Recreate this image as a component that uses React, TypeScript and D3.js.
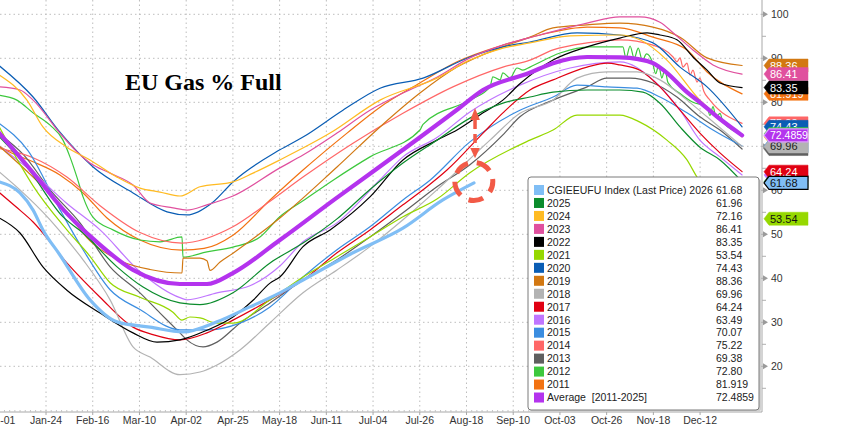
import React from 'react';
import * as d3 from 'd3';

type P = [number, number];

// day-of-year, % full
const S2011: P[] = [[0,70],[5,68.7],[16.5,66.5],[29.6,63.5],[40.9,59.4],[52.6,53.7],[68.7,48.7],[89.2,46.4],[100,46.8],[114.1,49.8],[132.2,57.8],[148.3,64.6],[169.8,73.0],[185.9,78.9],[205.4,84.4],[223.5,89.2],[245.9,93.0],[264,95.3],[287,97.1],[303,96.9],[319.2,94.8],[335.8,91.9],[345.6,86.9],[362.7,81.919]];
const S2012: P[] = [[0,81.6],[8.6,80.5],[16.5,77.6],[24.8,74.8],[31.1,71.4],[34.5,67.6],[37.9,63.0],[40.9,58.5],[45.7,53.9],[55.5,51.0],[68.7,48.7],[78.5,48.3],[89.2,49.4],[89.7,44.8],[101.4,46.0],[114.1,47.1],[127.3,49.4],[137,54.0],[148.3,57.6],[163,62.3],[181,67.6],[205.4,73.7],[206.9,75.0],[229.8,80.5],[239.6,83.5],[241,85.8],[244.5,85.1],[245.9,86.7],[249.4,85.5],[252.8,87.8],[255.7,87.3],[259.1,88.0],[273.8,91.2],[288.4,92.6],[304.5,92.6],[306,90.0],[308,92.8],[310,90.0],[312,92.3],[314,89.5],[316,91.0],[319,89.0],[320.5,86.5],[322,88.5],[323.5,85.5],[325,87.5],[326.5,84.5],[332.4,82.0],[338.7,80.0],[345.6,79.0],[347,77.0],[348.5,79.0],[350,76.5],[351.9,77.5],[353.4,75.5],[362.7,72.8]];
const S2013: P[] = [[0,72.8],[12,68],[24.8,60.1],[39.4,52.6],[54.1,42.6],[68.7,36.7],[78.5,32.1],[88.2,27.6],[91.6,26.0],[99.5,24.4],[106.3,25.5],[117.5,29.8],[132.2,34.4],[148.3,39.6],[164.9,44.2],[181,49.4],[197.1,54.9],[213.7,60.8],[229.8,65.8],[245.9,72.6],[254.2,76.7],[270.4,80.5],[287,83.5],[296.7,85.5],[308,85.5],[319.2,84.4],[330.9,81.2],[342.1,76.7],[351.9,73.7],[362.7,69.38]];
const S2014: P[] = [[0,69.5],[16.5,67.4],[33,63],[49.2,56.5],[68.7,50.4],[89.2,48.0],[114.1,51.7],[132.2,57.5],[148.3,63.0],[172.7,70.7],[197.1,77.5],[221.5,83.5],[245.9,88.0],[259.1,89.6],[270.4,91.9],[287,93.5],[303,94.2],[319.2,93.0],[329,90.3],[330.9,89.2],[332.4,90.1],[333.8,88.0],[335.8,88.9],[337.3,86.2],[338.7,87.3],[340.7,84.6],[342.1,85.5],[344,82.5],[347,80.5],[362.7,75.22]];
const S2015: P[] = [[0,75.2],[14,69],[29.6,55.6],[40.9,46.5],[54.1,37.4],[68.7,32.9],[88.2,28.3],[102.9,28.3],[117.5,29.8],[132.2,33.5],[148.3,40.3],[164.9,46.5],[181,51.7],[197.1,57.8],[210.3,62.3],[229.8,71.0],[254.2,78.2],[270.4,81.2],[282.1,83.9],[296.7,83.5],[311.4,83.2],[322.6,81.2],[335.8,77.6],[348.5,73.7],[362.7,70.07]];
const S2016: P[] = [[0,70],[16.5,64],[33,57],[49.2,51],[68.7,41.5],[88.2,35.6],[91.6,35.1],[106.3,36.7],[122.4,38.3],[137,42.8],[148.3,48.3],[164.9,52.6],[185.9,62.4],[197.1,67.6],[213.7,72],[229.8,77.8],[254.2,83.9],[278.7,87.8],[303,89.2],[319.2,85.1],[332.4,78.2],[342.1,71.4],[351.9,67.6],[362.7,63.49]];
const S2017: P[] = [[0,59.5],[8,56.3],[16.5,52.8],[33,43.5],[49.2,35.7],[65.3,28.9],[75,27.2],[88.2,26.0],[101.4,27.6],[114.1,30.5],[132.2,35.1],[148.3,39.6],[164.9,45.8],[181,51.0],[197.1,56.7],[208.8,60.8],[218.6,64.6],[236.2,73.0],[245.9,77.6],[259.1,82.8],[270.4,85.1],[287,88.0],[296.7,88.9],[303,88.5],[312.8,87.3],[322.6,83.5],[332.4,78.2],[342.1,73.0],[351.9,68.5],[362.7,64.24]];
const S2018: P[] = [[0,64.2],[10.1,60.1],[24.8,53.3],[40.9,44.2],[54.1,35.1],[65.3,24.4],[73.6,22.1],[88.2,18.1],[98,18.7],[106.3,20.3],[117.5,23.7],[132.2,29.9],[148.3,36.7],[164.9,41.9],[181,47.2],[197.1,53.3],[213.7,60.1],[239.6,71.4],[254.2,77.5],[270.4,80.5],[282.1,85.5],[296.7,86.9],[311.4,86.9],[322.6,85.1],[335.8,80.5],[345.6,76.7],[362.7,69.96]];
const S2019: P[] = [[0,70],[16.5,63],[31,56],[44.3,48.5],[59,44],[73.6,42],[89.2,41.2],[89.7,44.6],[98,44.6],[101.4,44.0],[102.9,41.8],[107.8,43.7],[114.1,45.7],[137,53.7],[164.9,65.3],[185.9,74.4],[205.4,82.1],[223.5,88.0],[245.9,92.6],[259.1,94.8],[270.4,96.9],[287,97.6],[303,98.0],[319.2,97.1],[332.4,94.8],[345.6,90.1],[362.7,88.36]];
const S2020: P[] = [[0,88.3],[16.5,81.2],[29.6,73.2],[45.8,65.3],[65.3,59.4],[81.9,55.1],[91.6,54.4],[104.3,57.3],[114.1,61.9],[137,69.2],[148.3,72.1],[167.8,78.2],[185.9,83.2],[206.9,85.5],[229.8,90.3],[245.9,92.6],[259.1,93.7],[282.1,95.8],[303,95.3],[319.2,93.5],[332.4,88.0],[345.6,83.5],[362.7,74.43]];
const S2021: P[] = [[0,74.4],[10,66],[16.5,61],[33,51],[44.3,45],[54.1,39],[68.7,35.7],[84.8,32.3],[89.2,30.5],[93.1,31.2],[98,31.0],[106.3,29.8],[114.1,29.8],[132.2,35.1],[148.3,40.3],[164.9,44.9],[181,49.4],[197.1,54.0],[213.7,58.0],[229.8,64.0],[259.1,71.4],[270.4,73.7],[282.1,77.1],[296.7,77.1],[303,77.1],[312.8,75.5],[326,71.4],[335.8,66.9],[340.7,63.0],[351.9,57.8],[362.7,53.54]];
const S2022: P[] = [[0,53.7],[10.1,50.3],[21.3,42.6],[33,37.3],[49.2,32.1],[65.3,27.6],[77,25.5],[88.2,26.0],[101.4,28.2],[114.1,31.2],[123.9,35.0],[132.2,38.9],[137,40.3],[148.3,47.2],[161.5,51.0],[181,58.5],[197.1,66.9],[213.7,71.4],[223.5,73.7],[236.2,77.6],[245.9,80.5],[254.2,84.2],[270.4,89.6],[287,92.6],[303,94.6],[316.3,95.8],[322.6,95.3],[330.9,94.2],[338.7,90.3],[345.6,87.3],[351.9,84.4],[362.7,83.35]];
const S2023: P[] = [[0,83.5],[10.1,82.8],[16.5,80.5],[29.6,73.0],[38,68.7],[44.3,66.2],[54.1,63.9],[65.3,61.2],[73.6,57.1],[84.8,56.0],[91.6,55.5],[101.4,56.7],[114.1,58.7],[137,65.1],[148.3,68.0],[164.9,73.0],[181,78.2],[197.1,82.1],[213.7,85.7],[229.8,90.1],[245.9,93.0],[264,95.3],[287,98.0],[303,99.4],[312.8,99.4],[322.6,98.2],[329,95.8],[338.7,91.9],[348.5,88.5],[362.7,86.41]];
const S2024: P[] = [[0,86.2],[13.5,80.5],[21.3,74.4],[33,69.8],[44.3,66.9],[57.5,63.0],[68.7,60.5],[78.5,59.6],[88.2,58.7],[98,60.8],[114.1,61.9],[123.9,63.9],[137,66.9],[161.5,73.0],[185.9,80.5],[213.7,85.5],[229.8,89.6],[245.9,92.3],[259.1,93.5],[278.7,95.1],[303,95.3],[312.8,94.2],[326,89.6],[342.1,80.5],[351.9,76.5],[362.7,72.16]];
const S2025: P[] = [[0,72.2],[14,65],[31,54],[40.9,50.3],[57.5,42.6],[70.2,38.0],[88.2,34.4],[98,34.0],[114.1,36.7],[132.2,43.5],[148.3,48],[164.9,53.5],[181,60.2],[197.1,66.2],[213.7,71.4],[229.8,76.4],[245.9,79.8],[259.1,81.2],[270.4,82.3],[287,82.8],[303,82.8],[314.3,82.3],[322.6,79.8],[332.4,74.4],[342.1,69.8],[351.9,66.9],[362.7,61.96]];
const S2026: P[] = [[0,61.9],[10.1,59.4],[16.5,55.5],[21.3,51.0],[29.6,45.3],[44.3,35.1],[57.5,30.1],[73.6,28.9],[89.7,27.8],[106.3,30.1],[122.4,33.5],[137,36.7],[148.3,39.6],[172.7,45.8],[197.1,51.4],[216.6,57.8],[231.8,61.68]];
const AVG: P[] = [[0,73.0],[23.3,60.1],[27.2,57.8],[49.2,47.6],[65.3,41.9],[88.2,38.7],[101.4,38.7],[114.1,41.2],[137,48.7],[163.9,58.0],[197.1,69.2],[223.5,78.3],[236.2,82.8],[259,86.7],[270.4,88.9],[287,90.3],[303,90.2],[312,89.8],[319.2,88.9],[326,86.7],[335.8,82.3],[342.1,80.0],[351.9,76.2],[362.7,72.49]];

const tickLabels = ['Jan-01','Jan-24','Feb-16','Mar-10','Apr-02','Apr-25','May-18','Jun-11','Jul-04','Jul-26','Aug-18','Sep-10','Oct-03','Oct-26','Nov-18','Dec-12'];
const yTicks = [20, 30, 40, 50, 60, 70, 80, 90, 100];
const legendLabels = ['CGIEEUFU Index (Last Price) 2026','2025','2024','2023','2022','2021','2020','2019','2018','2017','2016','2015','2014','2013','2012','2011','Average  [2011-2025]'];
const legendValues = ['61.68','61.96','72.16','86.41','83.35','53.54','74.43','88.36','69.96','64.24','63.49','70.07','75.22','69.38','72.80','81.919','72.4859'];
const legendColors = ['#80bef5','#0b8c2c','#ffbb22','#e0509e','#000000','#96d800','#0a5db4','#d27812','#b3b3b3','#e00012','#c076ff','#3b8de0','#ff6767','#5f5f5f','#3dc83d','#f27211','#b433ee'];
const legendData = [S2026,S2025,S2024,S2023,S2022,S2021,S2020,S2019,S2018,S2017,S2016,S2015,S2014,S2013,S2012,S2011,AVG];
// tag drawing order (index into legend arrays) and text colours
const tagOrder = [15,7,3,4,12,6,14,2,11,13,8,16,10,1,9,0,5];
const tagTextColors = ['#111','#fff','#222','#fff','#fff','#111','#fff','#fff','#222','#fff','#fff','#fff','#fff','#fff','#fff','#fff','#fff'];
// annotation arrow (values in % full) and circle centre (day, % full)
const arrowSpan = [78.7, 76.0, 69.6, 67.3];
const arrowDay = 232.3;
const circleAt: P = [231.7, 62.0];

const FONT = '"Liberation Sans", Arial, sans-serif';

export default function App() {
  const x = d3.scaleLinear().domain([0, 365]).range([-0.7, 746.8]);
  const y = d3.scaleLinear().domain([0, 100]).range([454.3, 14.3]);
  const plotR = 762, plotB = 412;
  const line = d3.line<P>().x(d => x(d[0])).y(d => y(d[1])).curve(d3.curveMonotoneX);
  const tickX = tickLabels.map((_, i) => x((i * 365) / 16));
  const minorStep = (tickX[1] - tickX[0]) / 9;
  const minors: number[] = [];
  for (let px = tickX[0]; px < plotR; px += minorStep) minors.push(px);
  const yMinor = d3.range(15, 101, 5);

  const lineOrder = [15,14,13,12,11,10,9,8,7,6,5,4,3,2,1,16,0];
  const widths = (i: number) => (i === 16 ? 4.2 : i === 0 ? 3.2 : 1.2);

  const tagPath = (yc: number) => {
    const h = 6.5;
    return `M764,${yc} L769,${yc - h} L808,${yc - h} L808,${yc + h} L769,${yc + h} Z`;
  };

  const legX = 528, legY = 177, legW = 231, legH = 233, rowH = 12.97;
  const ax = x(arrowDay);
  const [aTop, aTopBase, aBotBase, aBot] = arrowSpan.map(v => y(v));
  const red = '#f25a47';

  return (
    <svg width={844} height={427} style={{ position: 'absolute', left: 0, top: 0, background: '#fff' }}>
      <defs>
        <clipPath id="plot"><rect x={0} y={0} width={plotR} height={plotB} /></clipPath>
      </defs>
      <rect x={0} y={0} width={844} height={427} fill="#fff" />
      <g stroke="#bdbdbd" strokeWidth={1} strokeDasharray="1.5 3">
        {yTicks.map(t => <line key={'h' + t} x1={0} x2={plotR} y1={y(t)} y2={y(t)} />)}
        {tickX.map((px, i) => <line key={'v' + i} x1={px} x2={px} y1={0} y2={plotB} />)}
      </g>
      <text x={125} y={90} fontFamily='"Liberation Serif", "Times New Roman", serif' fontWeight="bold" fontSize={24} fill="#000">EU Gas % Full</text>
      <g clipPath="url(#plot)" fill="none" strokeLinejoin="round" strokeLinecap="round">
        {lineOrder.map(i => (
          <path key={'l' + i} d={line(legendData[i]) || ''} stroke={legendColors[i]} strokeWidth={widths(i)} />
        ))}
      </g>
      <g>
        <line x1={ax} x2={ax} y1={aTopBase} y2={aBotBase} stroke={red} strokeWidth={3.5} strokeDasharray="9 5" />
        <path d={`M${ax},${aTop} L${ax - 4.8},${aTopBase} L${ax + 4.8},${aTopBase} Z`} fill={red} />
        <path d={`M${ax},${aBot} L${ax - 4.8},${aBotBase} L${ax + 4.8},${aBotBase} Z`} fill={red} />
        <circle cx={x(circleAt[0])} cy={y(circleAt[1])} r={19} fill="none" stroke={red} strokeWidth={5} strokeDasharray="15 9" strokeDashoffset={4} />
      </g>
      <line x1={0} x2={plotR} y1={plotB} y2={plotB} stroke="#a8a8a8" strokeWidth={1} />
      <g stroke="#c4c4c4" strokeWidth={1}>
        {minors.map((px, i) => <line key={'m' + i} x1={px} x2={px} y1={plotB - 2} y2={plotB} />)}
      </g>
      <g stroke="#a8a8a8" strokeWidth={1}>
        {tickX.map((px, i) => <line key={'t' + i} x1={px} x2={px} y1={plotB} y2={plotB + 3} />)}
      </g>
      {tickLabels.map((t, i) => (
        <text key={'xl' + i} x={tickX[i]} y={424} textAnchor="middle" fontFamily={FONT} fontSize={10.5} fill="#333">{t}</text>
      ))}
      <line x1={plotR} x2={plotR} y1={0} y2={plotB} stroke="#a8a8a8" strokeWidth={1} />
      <g stroke="#b0b0b0">
        {yMinor.map(t => <line key={'ym' + t} x1={plotR} x2={plotR + 4} y1={y(t)} y2={y(t)} />)}
      </g>
      {yTicks.map(t => (
        <g key={'yt' + t}>
          <path d={`M${plotR + 1},${y(t) - 3} L${plotR + 6},${y(t)} L${plotR + 1},${y(t) + 3} Z`} fill="#9a9a9a" />
          <text x={771} y={y(t) + 3.8} fontFamily={FONT} fontSize={10.5} fill="#333">{t}</text>
        </g>
      ))}
      {tagOrder.map(i => {
        const v = parseFloat(legendValues[i]);
        const yc = y(v);
        const isAvg = i === 16;
        const isCur = i === 0;
        return (
          <g key={'tag' + i}>
            <path d={tagPath(yc)} fill={legendColors[i]}
              stroke={isCur ? '#000' : isAvg ? '#dc9bff' : legendColors[i]} strokeWidth={isCur || isAvg ? 1.2 : 0.5} />
            <text x={770} y={yc + 4} fontFamily={FONT} fontSize={isAvg ? 10.5 : 11} fill={tagTextColors[i]}>{legendValues[i]}</text>
          </g>
        );
      })}
      <rect x={legX + 2} y={legY + 2} width={legW} height={legH} rx={3} fill="#d0d0d0" />
      <rect x={legX} y={legY} width={legW} height={legH} rx={3} fill="#fff" stroke="#7a7a7a" strokeWidth={1} />
      {legendLabels.map((lab, i) => {
        const cy = legY + 13 + i * rowH;
        return (
          <g key={'lg' + i}>
            <rect x={534} y={cy - 5} width={10} height={10} fill={legendColors[i]} />
            <text x={547} y={cy + 3.8} fontFamily={FONT} fontSize={10.5} fill="#222" style={{ whiteSpace: 'pre' }}>{lab}</text>
            <text x={716} y={cy + 3.8} fontFamily={FONT} fontSize={10.5} fill="#222">{legendValues[i]}</text>
          </g>
        );
      })}
    </svg>
  );
}
